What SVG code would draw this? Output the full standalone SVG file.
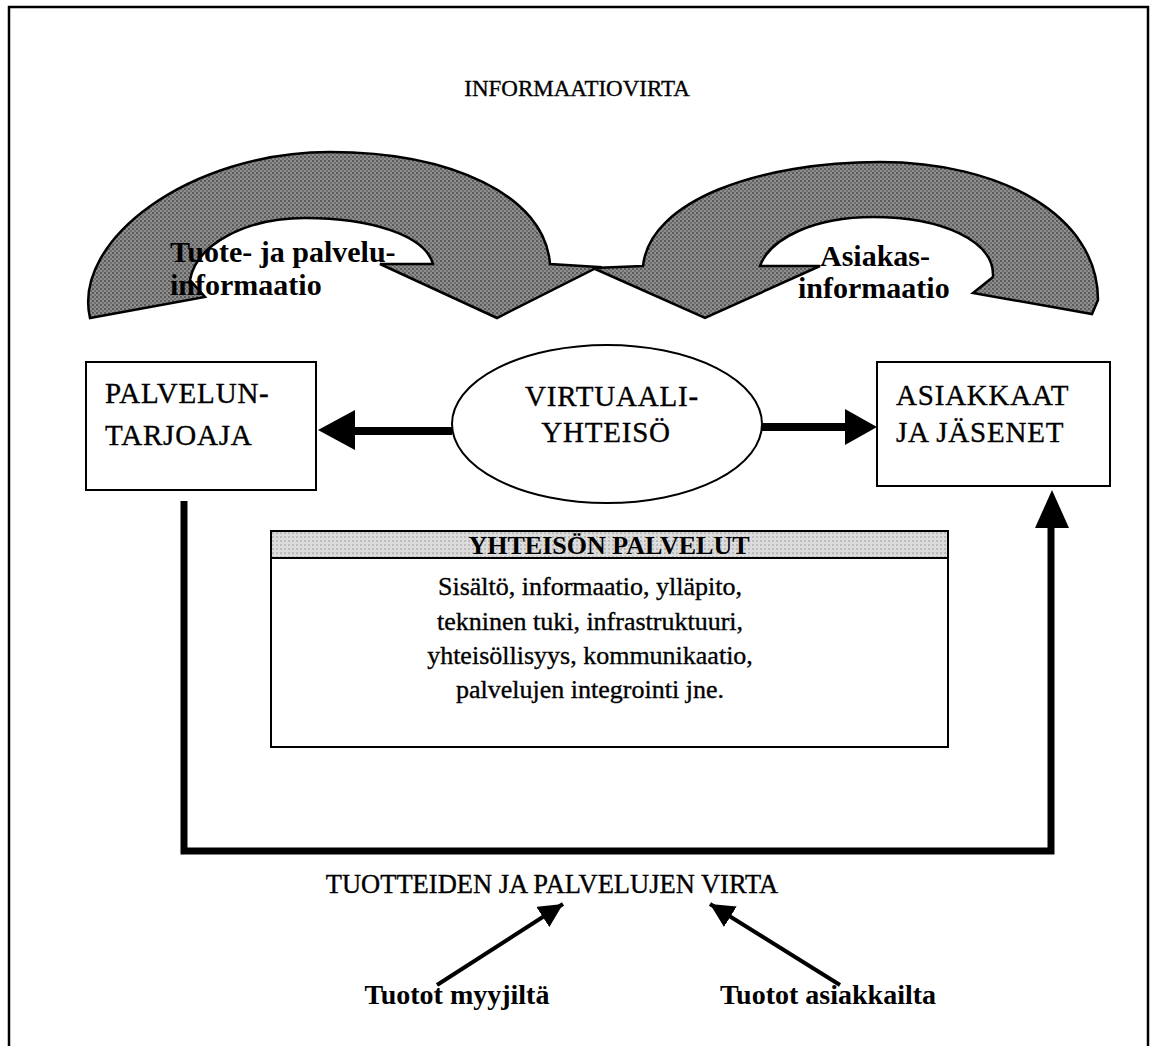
<svg xmlns="http://www.w3.org/2000/svg" width="1151" height="1046" viewBox="0 0 1151 1046">
<defs>
<style>
.t{font-family:"Liberation Serif","Times New Roman",serif;fill:#000}
.r{stroke:#000;stroke-width:0.35}
.b{font-weight:bold}
.box{fill:#fff;stroke:#000;stroke-width:2}
.curve{fill:url(#ht);stroke:#000;stroke-width:2.5;stroke-linejoin:miter}
.conn{fill:none;stroke:#000;stroke-width:7}
.thin{fill:none;stroke:#000;stroke-width:4}
</style>
<pattern id="ht" width="4" height="4" patternUnits="userSpaceOnUse">
<rect width="4" height="4" fill="#8e8e8e"/>
<rect width="2" height="2" fill="#5a5a5a"/>
<rect x="2" y="2" width="2" height="2" fill="#6e6e6e"/>
</pattern>
<pattern id="lt" width="4" height="4" patternUnits="userSpaceOnUse">
<rect width="4" height="4" fill="#dcdcdc"/>
<rect width="2" height="2" fill="#bcbcbc"/>
</pattern>
<marker id="ah" viewBox="0 0 10 10" refX="10" refY="5" markerWidth="6" markerHeight="6" markerUnits="strokeWidth" orient="auto">
<path d="M0,0 L10,5 L0,10 Z" fill="#000"/>
</marker>
</defs>
<rect x="9" y="7" width="1139" height="1100" fill="#fff" stroke="#000" stroke-width="2.5"/>

<text class="t r" x="577" y="96" font-size="23" text-anchor="middle">INFORMAATIOVIRTA</text>

<g id="info-left">
<path class="curve" d="M90,318 C72,240 190,152 330,152 C450,152 545,195 550,264 L598,267 L497,318 L380,264 L433,264 C425,235 370,218 305,218 C245,218 196,245 190,280 L205,297 Z"/>
<text class="t b" x="170" y="262" font-size="30">Tuote- ja palvelu-</text>
<text class="t b" x="170" y="295" font-size="30">informaatio</text>
</g>

<g id="info-right">
<path class="curve" d="M593,268 L643,266 C650,200 760,162 880,162 C1000,162 1098,215 1098,300 L1092,314 L973,293 L993,277 C995,240 940,217 873,217 C815,217 770,238 760,266 L820,266 L705,318 Z"/>
<text class="t b" x="820" y="266" font-size="30">Asiakas-</text>
<text class="t b" x="798" y="298" font-size="30">informaatio</text>
</g>

<g id="palveluntarjoaja">
<rect class="box" x="86" y="362" width="230" height="128"/>
<text class="t r" x="105" y="403" font-size="29" letter-spacing="0.8">PALVELUN-</text>
<text class="t r" x="105" y="445" font-size="29" letter-spacing="0.8">TARJOAJA</text>
</g>

<g id="virtuaaliyhteiso">
<ellipse cx="607" cy="424" rx="155" ry="79" fill="#fff" stroke="#000" stroke-width="2"/>
<text class="t r" x="612" y="406" font-size="29" text-anchor="middle" letter-spacing="0.8">VIRTUAALI-</text>
<text class="t r" x="606" y="442" font-size="29" text-anchor="middle" letter-spacing="0.8">YHTEISÖ</text>
</g>

<g id="asiakkaat">
<rect class="box" x="877" y="362" width="233" height="124"/>
<text class="t r" x="896" y="405" font-size="29" letter-spacing="0.8">ASIAKKAAT</text>
<text class="t r" x="896" y="442" font-size="29" letter-spacing="0.8">JA JÄSENET</text>
</g>

<g id="yhteison-palvelut">
<rect class="box" x="271" y="531" width="677" height="216"/>
<rect x="272" y="532" width="675" height="26" fill="url(#lt)"/>
<line x1="271" y1="558" x2="948" y2="558" stroke="#000" stroke-width="2"/>
<text class="t b" x="609" y="554" font-size="26" text-anchor="middle">YHTEISÖN PALVELUT</text>
<text class="t r" x="590" y="595" font-size="26" text-anchor="middle">Sisältö, informaatio, ylläpito,</text>
<text class="t r" x="590" y="630" font-size="26" text-anchor="middle">tekninen tuki, infrastruktuuri,</text>
<text class="t r" x="590" y="664" font-size="26" text-anchor="middle">yhteisöllisyys, kommunikaatio,</text>
<text class="t r" x="590" y="698" font-size="26" text-anchor="middle">palvelujen integrointi jne.</text>
</g>

<g id="tuotteiden-virta">
<text class="t r" x="552" y="893" font-size="26.5" text-anchor="middle">TUOTTEIDEN JA PALVELUJEN VIRTA</text>
</g>
<g id="tuotot-myyjilta">
<text class="t b" x="457" y="1004" font-size="28" text-anchor="middle">Tuotot myyjiltä</text>
</g>
<g id="tuotot-asiakkailta">
<text class="t b" x="828" y="1004" font-size="28" text-anchor="middle">Tuotot asiakkailta</text>
</g>

<g id="connectors">
<line x1="452" y1="431" x2="354" y2="431" stroke="#000" stroke-width="8"/>
<path d="M318,430 L355,410 L355,450 Z" fill="#000"/>
<line x1="762" y1="427" x2="846" y2="427" stroke="#000" stroke-width="8"/>
<path d="M877,427 L845,409 L845,445 Z" fill="#000"/>
<path class="conn" d="M184,501 V851 H1051 V525"/>
<path d="M1052,490 L1035,528 L1069,528 Z" fill="#000"/>
<line class="thin" x1="437" y1="985" x2="563" y2="904" marker-end="url(#ah)"/>
<line class="thin" x1="840" y1="985" x2="710" y2="904" marker-end="url(#ah)"/>
</g>
</svg>
